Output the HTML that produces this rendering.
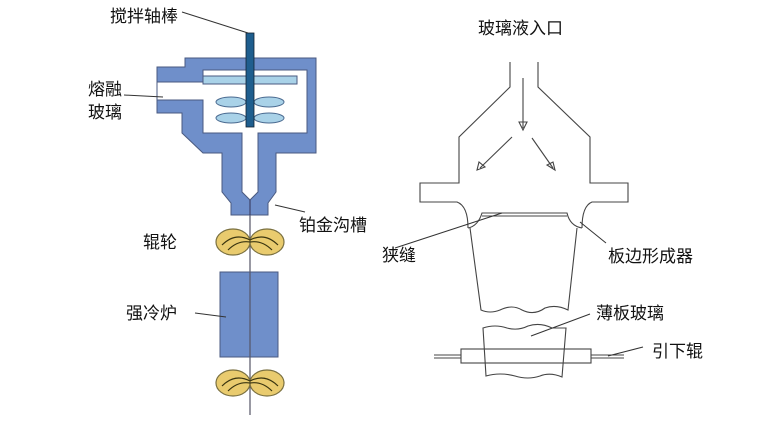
<!DOCTYPE html>
<html><head><meta charset="utf-8"><style>
html,body{margin:0;padding:0;background:#fff;}
svg{display:block;}
text{font-family:"Liberation Sans","Noto Sans CJK SC",sans-serif;font-size:17px;fill:#111;}
</style></head><body>
<svg width="761" height="421" viewBox="0 0 761 421" xmlns="http://www.w3.org/2000/svg">
<line x1="250" y1="200" x2="250" y2="415" stroke="#556" stroke-width="1.2"/>
<polygon points="185,58 316,58 316,153 276,153 276,192 268,203 268,215 231,215 231,203 222,192 222,153 203,153 182,133 182,113 157,113 157,100 157,82 157,67 185,67" fill="#6f8fca" stroke="#4a5a80" stroke-width="1"/>
<polygon points="157,82 203,82 203,70 307,70 307,133 258,133 258,192 250,200 242,192 242,133 203,133 203,100 157,100" fill="#fff" stroke="#4a5a80" stroke-width="1"/>
<rect x="203" y="76" width="94" height="8" fill="#a9d2e8" stroke="#4a5a80" stroke-width="1"/>
<ellipse cx="231" cy="102" rx="15" ry="5" fill="#a9d2e8" stroke="#4a6a90"/>
<ellipse cx="269" cy="102" rx="15" ry="5" fill="#a9d2e8" stroke="#4a6a90"/>
<ellipse cx="231" cy="118" rx="15" ry="5" fill="#a9d2e8" stroke="#4a6a90"/>
<ellipse cx="269" cy="118" rx="15" ry="5" fill="#a9d2e8" stroke="#4a6a90"/>
<rect x="246" y="33" width="8" height="94" fill="#1f5e8e" stroke="#123" stroke-width="0.8"/>
<line x1="250" y1="200" x2="250" y2="215" stroke="#335" stroke-width="1"/>
<g stroke="#7a7040" stroke-width="1.2" fill="#e9cb6e">
<ellipse cx="233" cy="242" rx="17" ry="13"/><ellipse cx="267" cy="242" rx="17" ry="13"/>
<ellipse cx="233" cy="383" rx="17" ry="13"/><ellipse cx="267" cy="383" rx="17" ry="13"/>
</g>
<g stroke="#3a3510" stroke-width="1.2" fill="none">
<path d="M222,245 Q235,232 250,240 M228,250 Q238,240 250,242 M278,245 Q265,232 250,240 M272,250 Q262,240 250,242"/>
<path d="M222,386 Q235,373 250,381 M228,391 Q238,381 250,383 M278,386 Q265,373 250,381 M272,391 Q262,381 250,383"/>
</g>
<rect x="220" y="272" width="58" height="85" fill="#6f8fca" stroke="#4a5a80" stroke-width="1"/>
<line x1="250" y1="272" x2="250" y2="357" stroke="#556" stroke-width="1.2"/>
<g stroke="#333" stroke-width="1">
<line x1="182" y1="12" x2="248" y2="33"/>
<line x1="124" y1="95" x2="163" y2="97"/>
<line x1="275" y1="205" x2="305" y2="212"/>
<line x1="195" y1="313" x2="226" y2="317"/>
</g>
<text x="110" y="22">搅拌轴棒</text>
<text x="88" y="95">熔融</text>
<text x="88" y="118">玻璃</text>
<text x="299" y="231">铂金沟槽</text>
<text x="143" y="248">辊轮</text>
<text x="126" y="319">强冷炉</text>
<g stroke="#444" stroke-width="1.1" fill="none">
<path d="M510,62 L510,87 L459,137 L459,183 L420,183 L420,202 L457,202 Q468,206 468,228"/>
<path d="M538,62 L538,87 L590,137 L590,183 L628,183 L628,202 L592,202 Q582,206 582,228"/>
<path d="M468,228 Q478,226 482,213 L567,213 Q570,226 582,228"/>
<line x1="482" y1="216" x2="567" y2="216"/>
<path d="M470,228 L481,310 Q490,314 500,310 Q512,304 522,310 Q534,316 545,308 Q556,304 568,310 L577,228"/>
<path d="M483,328 Q495,324 507,328 Q518,331 528,326 Q540,322 552,328 L566,328 L562,377 Q550,372 540,376 Q528,380 515,376 Q500,372 486,376 Z"/>
<rect x="461" y="349" width="130" height="14" fill="none"/>
<line x1="434" y1="355" x2="461" y2="355"/><line x1="434" y1="358" x2="461" y2="358"/>
<line x1="591" y1="355" x2="624" y2="355"/><line x1="591" y1="358" x2="624" y2="358"/>
<line x1="523" y1="78" x2="523" y2="128"/>
<path d="M519,122 L523,130 L527,122 Z"/>
<line x1="512" y1="137" x2="480" y2="168"/>
<path d="M479,162 L477,170 L485,167 Z"/>
<line x1="532" y1="138" x2="553" y2="168"/>
<path d="M547,165 L555,170 L553,162 Z"/>
</g>
<g stroke="#333" stroke-width="1">
<line x1="395" y1="248" x2="502" y2="213"/>
<line x1="606" y1="243" x2="580" y2="222"/>
<line x1="590" y1="314" x2="531" y2="336"/>
<line x1="643" y1="347" x2="608" y2="356"/>
</g>
<text x="478" y="34">玻璃液入口</text>
<text x="382" y="261">狭缝</text>
<text x="608" y="262">板边形成器</text>
<text x="596" y="319">薄板玻璃</text>
<text x="652" y="357">引下辊</text>
</svg>
</body></html>
